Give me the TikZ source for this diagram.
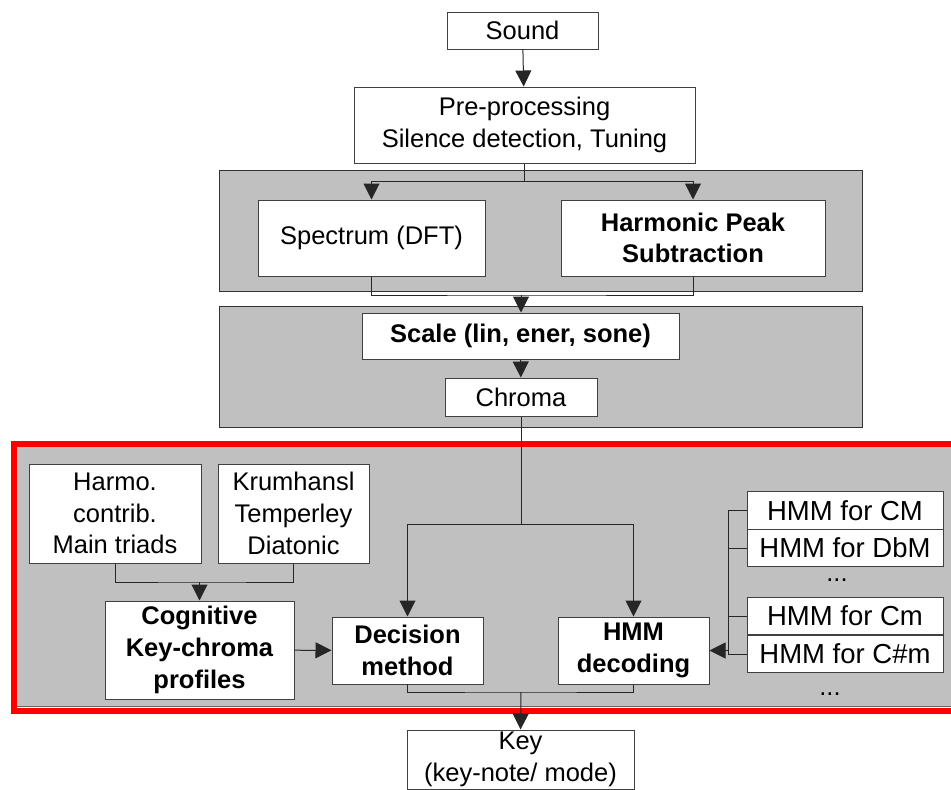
\documentclass[tikz,border=0pt]{standalone}
\usepackage{fontspec}
\setmainfont{Liberation Sans}
\usetikzlibrary{arrows.meta}
\definecolor{panelgray}{RGB}{192,192,192}
\definecolor{framered}{RGB}{255,0,0}
\tikzset{
  box/.style={draw=black!75, fill=white, line width=1pt, inner sep=0pt, align=center},
  panel/.style={draw=black!80, fill=panelgray, line width=1pt},
  link/.style={draw=black!85, line width=1pt},
  arr/.style={link, -{Triangle[length=16pt,width=16pt]}},
}
\begin{document}
\begin{tikzpicture}[x=1pt, y=-1pt, font=\fontsize{25.5}{31.7}\selectfont]
    \useasboundingbox (0,0) rectangle (951,790);

    % gray panels
    \draw[panel] (219.5,170) rectangle (862,291.5);
    \draw[panel] (219.5,306) rectangle (862,427);
    \draw[panel, draw=black!60] (16,446) rectangle (960,706.5);
    \draw[framered, line width=6pt] (14,443.5) rectangle (970,711);

    % front end
    \node[box, minimum width=151pt, minimum height=37pt] (sound) at (522.5,30.5) {Sound};
    \node[box, minimum width=341pt, minimum height=76pt] (pre) at (524.5,125) {Pre-processing\\Silence detection, Tuning};
    \node[box, minimum width=227pt, minimum height=76pt] (spec) at (371.5,238) {Spectrum (DFT)};
    \node[box, minimum width=264pt, minimum height=76pt] (hps) at (693,238) {\bfseries Harmonic Peak\\\bfseries Subtraction};
    \node[box, minimum width=317pt, minimum height=46pt] (scale) at (520.5,336) {\bfseries Scale (lin, ener, sone)};
    \node[box, minimum width=152pt, minimum height=38pt] (chroma) at (521,397) {Chroma};

    % key estimation
    \node[box, minimum width=172pt, minimum height=99pt] (harmo) at (115,513.5) {Harmo.\\contrib.\\Main triads};
    \node[box, minimum width=151pt, minimum height=99pt] (krum) at (293.5,513.5) {Krumhansl\\Temperley\\Diatonic};
    \node[box, minimum width=189pt, minimum height=98pt] (cog) at (199.5,650) {\bfseries Cognitive\\\bfseries Key-chroma\\\bfseries profiles};
    \node[box, minimum width=151pt, minimum height=67pt] (dec) at (407.5,650.5) {\bfseries Decision\\\bfseries method};
    \node[box, minimum width=151pt, minimum height=67pt] (hmmdec) at (633.5,650.5) {\bfseries HMM\\\bfseries decoding};

    % HMM models
    \foreach \nm/\y/\txt in {cm/510.5/CM, dbm/548/DbM, cmin/616/Cm, csm/654/C\#m}
        \node[box, minimum width=196pt, minimum height=37.5pt, font=\fontsize{27.5}{31.7}\selectfont] (\nm) at (845,\y) {HMM for \txt};
    \node (dotsa) at (837,580) {...};
    \node (dotsb) at (830,694) {...};

    \node[box, minimum width=227pt, minimum height=59pt] (key) at (520.5,759.5) {Key\\(key-note/ mode)};

    % connectors
    \coordinate (split) at (524.5,181);
    \coordinate (join1) at (521,295);
    \coordinate (fork) at (521,524);
    \coordinate (join2) at (199.5,582);
    \coordinate (join3) at (521,692);
    \coordinate (bustop) at (728,510.5);
    \coordinate (busbot) at (728,654);

    \draw[arr] (sound) -- (pre);
    \draw[link] (pre.south) -- (split);
    \draw[arr] (split) -| (spec.north);
    \draw[arr] (split) -| (hps.north);
    \draw[link] (spec.south) |- (join1) -| (hps.south);
    \draw[arr] (join1) -- (scale.north -| join1);
    \draw[arr] (scale) -- (chroma);
    \draw[link] (chroma.south) -- (fork);
    \draw[arr] (fork) -| (dec.north);
    \draw[arr] (fork) -| (hmmdec.north);

    \draw[link] (harmo.south) |- (join2) -| (krum.south);
    \draw[arr] (join2) -- (cog.north);
    \draw[arr] (cog) -- (dec);

    \draw[link] (cm.west) -- (bustop) -- (busbot) -- (csm.west);
    \draw[link] (dbm.west) -- (dbm.west -| bustop);
    \draw[link] (cmin.west) -- (cmin.west -| bustop);
    \draw[arr] (hmmdec.east -| bustop) -- (hmmdec.east);

    \draw[link] (dec.south) |- (join3) -| (hmmdec.south);
    \draw[arr] (join3) -- (key.north);
\end{tikzpicture}
\end{document}
